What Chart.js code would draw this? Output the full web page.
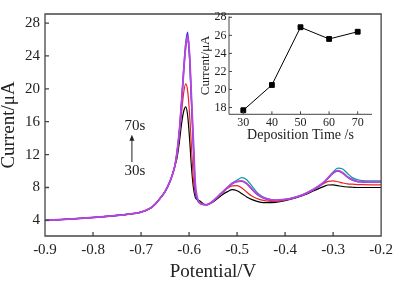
<!DOCTYPE html>
<html>
<head>
<meta charset="utf-8">
<script src="https://cdn.jsdelivr.net/npm/chart.js@4.4.1/dist/chart.umd.min.js"></script>
<style>
    html, body { margin: 0; padding: 0; background: #fff; }
    #wrap { position: relative; width: 398px; height: 284px; }
    #main { position: absolute; left: 0; top: 0; }
    #inset { position: absolute; left: 190px; top: 0; }
</style>
</head>
<body>
<div id="wrap">
    <canvas id="main" width="398" height="284"></canvas>
    <canvas id="inset" width="200" height="145"></canvas>
</div>
<script>
// potential grid (V), denser round the main stripping peak
const potential = [
    -0.90, -0.85, -0.80, -0.75, -0.72, -0.70, -0.68, -0.67, -0.66, -0.65, -0.64, -0.63,
    -0.625, -0.62, -0.615, -0.611, -0.607, -0.603, -0.599, -0.595, -0.591, -0.587, -0.583, -0.578, -0.572, -0.565,
    -0.56, -0.55, -0.54, -0.53, -0.52, -0.51, -0.50, -0.49, -0.48, -0.47, -0.46, -0.45, -0.44,
    -0.42, -0.40, -0.38, -0.36, -0.34, -0.32, -0.31, -0.30, -0.29, -0.28, -0.27, -0.26, -0.25, -0.24, -0.22, -0.20
];

// shared baseline before the peak (all curves overlap there)
const baseline = [4.0, 4.15, 4.35, 4.6, 4.8, 5.0, 5.5, 6.0, 6.7, 7.5, 8.7, 10.5];

const current30s = baseline.concat(
    [11.6, 13.6, 16.0, 17.3, 17.8, 16.8, 14.0, 10.5, 8.0, 6.8, 6.5, 6.4, 6.1, 5.9],
    [5.95, 6.25, 6.7, 7.15, 7.5, 7.75, 7.6, 7.25, 6.85, 6.55, 6.35, 6.2, 6.15,
     6.2, 6.4, 6.7, 7.1, 7.6, 8.1, 8.3, 8.32, 8.22, 8.12, 8.06, 8.03, 8.0, 8.0, 8.0, 8.0]
);
const current40s = baseline.concat(
    [12.0, 14.5, 17.5, 19.6, 20.6, 19.8, 17.0, 13.0, 9.0, 7.2, 6.6, 6.2, 6.0, 5.9],
    [5.95, 6.3, 6.85, 7.4, 7.9, 8.2, 8.22, 7.95, 7.45, 7.0, 6.7, 6.5, 6.38,
     6.3, 6.45, 6.75, 7.2, 7.75, 8.45, 8.75, 8.8, 8.7, 8.55, 8.45, 8.4, 8.36, 8.34, 8.33, 8.33]
);
const current50s = baseline.concat(
    [12.3, 15.0, 19.0, 22.5, 25.5, 26.9, 24.0, 18.5, 13.0, 7.8, 6.6, 6.1, 5.95, 5.9],
    [5.95, 6.35, 6.9, 7.45, 8.0, 8.48, 8.72, 8.76, 8.45, 7.85, 7.25, 6.85, 6.6,
     6.42, 6.52, 6.77, 7.17, 7.77, 8.56, 9.15, 9.75, 10.0, 9.75, 9.25, 8.9, 8.72, 8.67, 8.62, 8.62]
);
const current60s = baseline.concat(
    [12.3, 15.0, 18.8, 22.2, 24.9, 25.8, 23.6, 18.3, 13.0, 7.9, 6.6, 6.1, 5.95, 5.9],
    [5.95, 6.35, 6.9, 7.45, 8.0, 8.55, 8.9, 9.2, 8.95, 8.25, 7.5, 7.0, 6.7,
     6.45, 6.55, 6.8, 7.2, 7.8, 8.6, 9.2, 9.9, 10.35, 10.25, 9.7, 9.2, 8.95, 8.85, 8.8, 8.8]
);
const current70s = baseline.concat(
    [12.3, 15.0, 18.8, 22.3, 25.2, 26.4, 24.2, 19.0, 13.8, 8.5, 6.8, 6.15, 5.95, 5.9],
    [5.95, 6.35, 6.9, 7.45, 8.0, 8.5, 8.75, 8.8, 8.5, 7.9, 7.3, 6.9, 6.65,
     6.45, 6.55, 6.8, 7.2, 7.8, 8.6, 9.2, 9.8, 10.05, 9.8, 9.3, 8.95, 8.75, 8.7, 8.65, 8.65]
);

const xTicks = [-0.9, -0.8, -0.7, -0.6, -0.5, -0.4, -0.3, -0.2];
const yTicks = [4, 8, 12, 16, 20, 24, 28];

// inset: peak current against deposition time
const depositionTime = [30, 40, 50, 60, 70];
const peakCurrent = [17.7, 20.5, 26.9, 25.6, 26.4];
const insetXTicks = [30, 40, 50, 60, 70];
const insetYTicks = [18, 20, 22, 24, 26, 28];

const serif = "Liberation Serif";
const ink = "#222";

function points(ys) {
    return potential.map((v, i) => ({ x: v, y: ys[i] }));
}

function curve(ys, color, width) {
    return {
        data: points(ys),
        borderColor: color,
        borderWidth: width,
        pointRadius: 0,
        cubicInterpolationMode: "monotone",
        fill: false
    };
}

// box / axis lines with inward tick marks
const framePlugin = {
    id: "frame",
    afterDatasetsDraw(chart, args, opts) {
        const { ctx, chartArea: a, scales } = chart;
        ctx.save();
        ctx.strokeStyle = opts.color;
        ctx.lineWidth = opts.width;
        ctx.beginPath();
        if (opts.box) {
            ctx.rect(a.left, a.top, a.right - a.left, a.bottom - a.top);
        } else {
            ctx.moveTo(a.left, a.top);
            ctx.lineTo(a.left, a.bottom);
            ctx.lineTo(a.right, a.bottom);
        }
        scales.x.ticks.forEach(t => {
            const px = scales.x.getPixelForValue(t.value);
            ctx.moveTo(px, a.bottom);
            ctx.lineTo(px, a.bottom - opts.tick);
        });
        scales.y.ticks.forEach(t => {
            const py = scales.y.getPixelForValue(t.value);
            ctx.moveTo(a.left, py);
            ctx.lineTo(a.left + opts.tick, py);
        });
        ctx.stroke();
        ctx.restore();
    }
};

// "30s -> 70s" arrow note
const arrowPlugin = {
    id: "arrowNote",
    afterDatasetsDraw(chart) {
        const { ctx, scales } = chart;
        const x = scales.x.getPixelForValue(-0.719);
        const yTop = scales.y.getPixelForValue(14.4);
        const yBot = scales.y.getPixelForValue(11.1);
        ctx.save();
        ctx.strokeStyle = ink;
        ctx.fillStyle = ink;
        ctx.lineWidth = 1;
        ctx.beginPath();
        ctx.moveTo(x, yBot);
        ctx.lineTo(x, yTop + 4);
        ctx.stroke();
        ctx.beginPath();
        ctx.moveTo(x, yTop);
        ctx.lineTo(x - 2.5, yTop + 6);
        ctx.lineTo(x + 2.5, yTop + 6);
        ctx.closePath();
        ctx.fill();
        ctx.font = "15px " + serif;
        ctx.textAlign = "center";
        ctx.textBaseline = "middle";
        ctx.fillText("70s", x + 3, scales.y.getPixelForValue(15.45));
        ctx.fillText("30s", x + 3, scales.y.getPixelForValue(10.0));
        ctx.restore();
    }
};

new Chart(document.getElementById("main"), {
    type: "line",
    data: {
        datasets: [
            curve(current70s, "#bb44dd", 1.8),
            curve(current50s, "#3333ee", 1.4),
            curve(current60s, "#119999", 1.2),
            curve(current40s, "#ee2222", 1.2),
            curve(current30s, "#000000", 1.2)
        ]
    },
    plugins: [framePlugin, arrowPlugin],
    options: {
        responsive: false,
        animation: false,
        layout: { autoPadding: false, padding: { left: 0, right: 15, top: 7, bottom: 0 } },
        plugins: {
            legend: { display: false },
            tooltip: { enabled: false },
            frame: { color: "#444", width: 1.3, tick: 4, box: true }
        },
        scales: {
            x: {
                type: "linear",
                min: -0.9,
                max: -0.2,
                afterBuildTicks: s => { s.ticks = xTicks.map(v => ({ value: v })); },
                afterFit: s => { s.height = 48; },
                grid: { display: false, drawTicks: false },
                border: { display: false },
                ticks: {
                    font: { family: serif, size: 15 },
                    color: ink,
                    padding: 5,
                    maxRotation: 0,
                    callback: v => v.toFixed(1)
                },
                title: {
                    display: true,
                    text: "Potential/V",
                    font: { family: serif, size: 19, lineHeight: 1 },
                    color: ink,
                    padding: { top: 0, bottom: 2.5 }
                }
            },
            y: {
                min: 2.1,
                max: 29.1,
                afterBuildTicks: s => { s.ticks = yTicks.map(v => ({ value: v })); },
                afterFit: s => { s.width = 45; },
                grid: { display: false, drawTicks: false },
                border: { display: false },
                ticks: { font: { family: serif, size: 15 }, color: ink, padding: 5 },
                title: {
                    display: true,
                    text: "Current/μA",
                    font: { family: serif, size: 19, lineHeight: 1 },
                    color: ink,
                    padding: { top: 0, bottom: 0 }
                }
            }
        }
    }
});

new Chart(document.getElementById("inset"), {
    type: "line",
    data: {
        datasets: [{
            data: depositionTime.map((t, i) => ({ x: t, y: peakCurrent[i] })),
            borderColor: "#000",
            backgroundColor: "#000",
            borderWidth: 1,
            pointStyle: "rect",
            pointRadius: 3.4,
            tension: 0
        }]
    },
    plugins: [framePlugin],
    options: {
        responsive: false,
        animation: false,
        layout: { autoPadding: false, padding: { left: 0, right: 18, top: 16.4, bottom: 0 } },
        plugins: {
            legend: { display: false },
            tooltip: { enabled: false },
            frame: { color: "#444", width: 1, tick: 3, box: false }
        },
        scales: {
            x: {
                type: "linear",
                min: 25,
                max: 75,
                afterBuildTicks: s => { s.ticks = insetXTicks.map(v => ({ value: v })); },
                afterFit: s => { s.height = 30.7; },
                grid: { display: false, drawTicks: false },
                border: { display: false },
                ticks: { font: { family: serif, size: 12 }, color: ink, padding: 1, maxRotation: 0 },
                title: {
                    display: true,
                    text: "Deposition Time /s",
                    font: { family: serif, size: 14, lineHeight: 1 },
                    color: ink,
                    padding: { top: 0, bottom: 3 }
                }
            },
            y: {
                min: 17.25,
                max: 28.1,
                afterBuildTicks: s => { s.ticks = insetYTicks.map(v => ({ value: v })); },
                afterFit: s => { s.width = 39; },
                grid: { display: false, drawTicks: false },
                border: { display: false },
                ticks: { font: { family: serif, size: 12 }, color: ink, padding: 2.5 },
                title: {
                    display: true,
                    text: "Current/μA",
                    font: { family: serif, size: 13, lineHeight: 1 },
                    color: ink,
                    padding: { top: 9.5, bottom: 0 }
                }
            }
        }
    }
});
</script>
</body>
</html>
